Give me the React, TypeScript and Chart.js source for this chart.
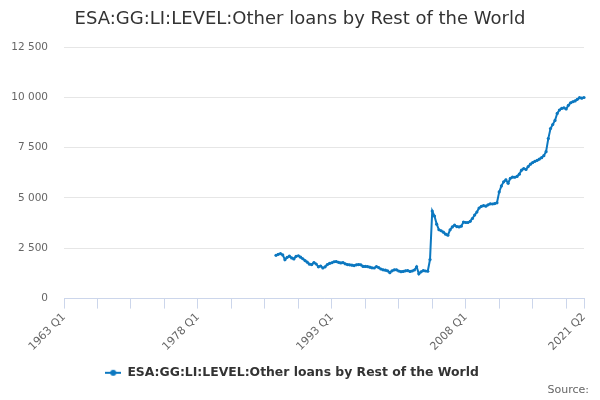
import React, { useEffect, useRef } from "react";
import { Chart, registerables } from "chart.js";

Chart.register(...registerables);

const TITLE = "ESA:GG:LI:LEVEL:Other loans by Rest of the World";
const SERIES_NAME = "ESA:GG:LI:LEVEL:Other loans by Rest of the World";
const SOURCE_TEXT = "Source:";
const FIRST_YEAR = 1963;
const LAST_LABEL = "2021 Q2";
const DATA_START = "1986 Q4";
const LABELED_TICKS = ["1963 Q1", "1978 Q1", "1993 Q1", "2008 Q1", "2021 Q2"];
const TICK_EVERY = 15;
const Y_MIN = 0;
const Y_MAX = 12500;
const Y_STEP = 2500;

// Quarterly values from 1986 Q4 to 2021 Q2
const values: number[] = [
  2150, 2200, 2230, 2170, 1930, 2050, 2110, 2020, 1970, 2100,
  2130, 2060, 1980, 1890, 1810, 1710, 1690, 1790, 1720, 1580,
  1620, 1520, 1580, 1690, 1750, 1780, 1830, 1840, 1800, 1770,
  1790, 1730, 1690, 1680, 1660, 1640, 1680, 1690, 1680, 1600,
  1600, 1590, 1560, 1530, 1520, 1590, 1540, 1470, 1430, 1410,
  1380, 1290, 1380, 1430, 1430, 1370, 1340, 1350, 1380, 1390,
  1350, 1370, 1420, 1580, 1230, 1330, 1390, 1370, 1360, 1940,
  4350, 4100, 3700, 3420, 3370, 3300, 3200, 3150, 3420, 3560,
  3650, 3580, 3560, 3600, 3800, 3780, 3780, 3840, 3980, 4150,
  4300, 4500, 4580, 4620, 4590, 4660, 4710, 4700, 4720, 4760,
  5300, 5600, 5800, 5900, 5730, 5980, 6040, 6030, 6070, 6180,
  6380, 6460, 6420, 6560, 6680, 6760, 6820, 6870, 6930, 7000,
  7100, 7300, 7950, 8450, 8650, 8850, 9200, 9370, 9450, 9480,
  9420, 9600, 9730, 9780, 9820, 9900, 9980, 9960, 9990,
];

const LINE_COLOR = "#0c78c0";

function buildCategories(): string[] {
  const out: string[] = [];
  for (let y = FIRST_YEAR; y < 2100; y++) {
    for (let q = 1; q <= 4; q++) {
      const l = `${y} Q${q}`;
      out.push(l);
      if (l === LAST_LABEL) return out;
    }
  }
  return out;
}

function fmt(v: number): string {
  return String(v).replace(/\B(?=(\d{3})+(?!\d))/g, " ");
}

function legendMarker(): HTMLCanvasElement {
  const c = document.createElement("canvas");
  c.width = 16;
  c.height = 8;
  const g = c.getContext("2d")!;
  g.strokeStyle = LINE_COLOR;
  g.lineWidth = 2;
  g.beginPath();
  g.moveTo(0, 4);
  g.lineTo(16, 4);
  g.stroke();
  g.fillStyle = LINE_COLOR;
  g.beginPath();
  g.arc(8, 4, 3, 0, Math.PI * 2);
  g.fill();
  return c;
}

export default function App() {
  const ref = useRef<HTMLCanvasElement | null>(null);

  useEffect(() => {
    document.body.style.margin = "0";
    const categories = buildCategories();
    const startIdx = categories.indexOf(DATA_START);
    const data: (number | null)[] = categories.map((_, i) =>
      i >= startIdx && i - startIdx < values.length ? values[i - startIdx] : null
    );
    const n = categories.length;

    const textPlugin = {
      id: "titleAndSource",
      afterDraw(chart: any) {
        const ctx = chart.ctx;
        ctx.save();
        ctx.font = "18px 'DejaVu Sans'";
        ctx.fillStyle = "#333";
        ctx.textAlign = "center";
        ctx.textBaseline = "middle";
        ctx.fillText(TITLE, chart.width / 2, 19);
        ctx.font = "11px 'DejaVu Sans'";
        ctx.fillStyle = "#666";
        ctx.textAlign = "right";
        ctx.fillText(SOURCE_TEXT, 589, 390);
        ctx.restore();
      },
    };

    Chart.defaults.font.family = "'DejaVu Sans', sans-serif";

    const chart = new Chart(ref.current!, {
      type: "line",
      data: {
        labels: categories,
        datasets: [
          {
            label: SERIES_NAME,
            data,
            borderColor: LINE_COLOR,
            backgroundColor: LINE_COLOR,
            borderWidth: 2,
            pointRadius: 1.6,
            pointBorderWidth: 0,
            pointBackgroundColor: LINE_COLOR,
            tension: 0,
            spanGaps: false,
          },
        ],
      },
      options: {
        animation: false,
        responsive: true,
        maintainAspectRatio: false,
        layout: { padding: { left: 0, right: 16, top: 47, bottom: 11 } },
        plugins: {
          title: { display: false },
          legend: {
            position: "bottom",
            labels: {
              usePointStyle: true,
              pointStyle: legendMarker() as any,
              pointStyleWidth: 16,
              color: "#333",
              font: { size: 12.4, weight: "bold", family: "'DejaVu Sans', sans-serif" },
              padding: 10,
            },
          },
          tooltip: { enabled: false },
        },
        scales: {
          x: {
            type: "category",
            offset: false,
            border: { display: true, color: "#ccd6eb", width: 1 },
            grid: {
              drawOnChartArea: false,
              drawTicks: true,
              tickLength: 10,
              tickColor: (ctx: any) =>
                ctx.index % TICK_EVERY === 0 || ctx.index === n - 1 ? "#ccd6eb" : "rgba(0,0,0,0)",
            },
            ticks: {
              autoSkip: false,
              minRotation: 45,
              maxRotation: 45,
              color: "#666",
              font: { size: 11 },
              padding: 2,
              callback: (_v: any, i: number) =>
                LABELED_TICKS.includes(categories[i]) ? categories[i] : "",
            },
            afterFit: (s: any) => {
              s.height = 58;
            },
          },
          y: {
            min: Y_MIN,
            max: Y_MAX,
            border: { display: false },
            grid: { color: "#e6e6e6", drawTicks: false },
            ticks: {
              stepSize: Y_STEP,
              color: "#666",
              font: { size: 10.5 },
              padding: 16,
              callback: (v: any) => fmt(Number(v)),
            },
            afterFit: (s: any) => {
              s.width = 64;
            },
          },
        },
      },
      plugins: [textPlugin],
    });

    return () => chart.destroy();
  }, []);

  return (
    <div style={{ position: "relative", width: 600, height: 400 }}>
      <canvas ref={ref} />
    </div>
  );
}
